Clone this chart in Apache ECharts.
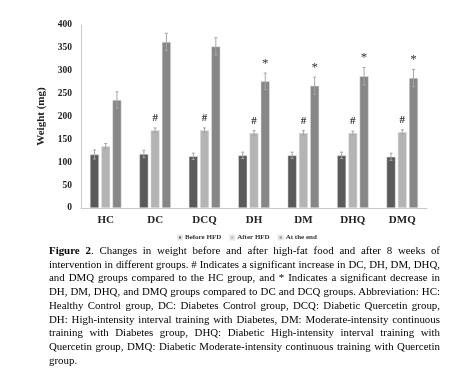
<!DOCTYPE html>
<html>
<head>
<meta charset="utf-8">
<script src="https://cdn.jsdelivr.net/npm/echarts@6/dist/echarts.min.js"></script>
<style>
  html, body { margin: 0; padding: 0; background: #fff; }
  #chart { width: 453px; height: 245px; }
  #caption {
    position: absolute; left: 49px; top: 244px; width: 391px;
    font-family: "Liberation Serif", serif; font-size: 10.9px; line-height: 13.7px;
    text-align: justify; color: #000;
  }
</style>
</head>
<body>
<div id="chart"></div>
<div id="caption"><b>Figure 2</b>. Changes in weight before and after high-fat food and after 8 weeks of intervention in different groups. # Indicates a significant increase in DC, DH, DM, DHQ, and DMQ groups compared to the HC group, and * Indicates a significant decrease in DH, DM, DHQ, and DMQ groups compared to DC and DCQ groups. Abbreviation: HC: Healthy Control group, DC: Diabetes Control group, DCQ: Diabetic Quercetin group, DH: High-intensity interval training with Diabetes, DM: Moderate-intensity continuous training with Diabetes group, DHQ: Diabetic High-intensity interval training with Quercetin group, DMQ: Diabetic Moderate-intensity continuous training with Quercetin group.</div>
<script>
// data
const groups = ["HC", "DC", "DCQ", "DH", "DM", "DHQ", "DMQ"];
const beforeHFD = [117, 118, 113, 115, 115, 115, 112];
const afterHFD = [135, 170, 170, 164, 164, 164, 166];
const atTheEnd = [236, 363, 353, 277, 267, 288, 284];
const beforeErr = [10, 8, 7, 7, 7, 7, 8];
const afterErr = [6, 5, 5, 5, 5, 4, 5];
const endErr = [18, 19, 19, 18, 19, 19, 19];
const afterSig = ["", "#", "#", "#", "#", "#", "#"];
const endSig = ["", "", "", "*", "*", "*", "*"];
const yTicks = [0, 50, 100, 150, 200, 250, 300, 350, 400];

const serif = "Liberation Serif";
const chart = echarts.init(document.getElementById("chart"));

// error bars (+ significance marks) drawn over the bars
function errSeries(name, vals, errs, marks, offset) {
    return {
        type: "custom",
        name: name + " err",
        z: 5,
        silent: true,
        data: vals.map((v, i) => [i, v, errs[i], marks ? marks[i] : ""]),
        renderItem(params, api) {
            const i = api.value(0), v = api.value(1), e = api.value(2);
            const hi = api.coord([i, v + e]);
            const lo = api.coord([i, v - e]);
            const x = hi[0] + offset;
            const st = { stroke: "#a6a6a6", lineWidth: 1 };
            const children = [
                { type: "line", shape: { x1: x, y1: hi[1], x2: x, y2: lo[1] }, style: st },
                { type: "line", shape: { x1: x - 1.5, y1: hi[1], x2: x + 1.5, y2: hi[1] }, style: st },
                { type: "line", shape: { x1: x - 1.5, y1: lo[1], x2: x + 1.5, y2: lo[1] }, style: st },
            ];
            const m = api.value(3);
            if (m) {
                children.push({
                    type: "text",
                    style: {
                        text: m, x: x, y: hi[1] - (m === "*" ? 3 : 4),
                        align: "center", verticalAlign: "bottom",
                        font: (m === "*" ? "13px " : "bold 11px ") + serif, fill: "#333"
                    }
                });
            }
            return { type: "group", children: children };
        }
    };
}

const barStyle = (c) => ({ color: c, borderColor: "#e6e6e6", borderWidth: 0.5 });

chart.setOption({
    animation: false,
    grid: { left: 81, right: 26, top: 25, bottom: 37 },
    legend: {
        data: ["Before HFD", "After HFD", "At the end"],
        top: 229,
        left: 172,
        itemWidth: 4,
        itemHeight: 4,
        itemGap: 8,
        icon: "rect",
        textStyle: { fontFamily: serif, fontWeight: "bold", fontSize: 7, color: "#333", padding: [0, 0, 0, -2] }
    },
    xAxis: {
        type: "category",
        data: groups,
        axisTick: { show: false },
        axisLine: { lineStyle: { color: "#c8c8c8", width: 1 } },
        axisLabel: { fontFamily: serif, fontWeight: "bold", fontSize: 11, color: "#222", margin: 7 }
    },
    yAxis: {
        type: "value",
        min: yTicks[0],
        max: yTicks[yTicks.length - 1],
        interval: 50,
        name: "Weight (mg)",
        nameLocation: "middle",
        nameGap: 27,
        nameTextStyle: { fontFamily: serif, fontWeight: "bold", fontSize: 11, color: "#222" },
        splitLine: { show: false },
        axisTick: { show: false },
        axisLine: { show: true, lineStyle: { color: "#c8c8c8", width: 1 } },
        axisLabel: { fontFamily: serif, fontWeight: "bold", fontSize: 9.5, color: "#222", margin: 9 }
    },
    series: [
        { name: "Before HFD", type: "bar", data: beforeHFD, barWidth: 9, barGap: "25%", itemStyle: barStyle("#5a5a5a") },
        { name: "After HFD", type: "bar", data: afterHFD, barWidth: 9, barGap: "25%", itemStyle: barStyle("#b4b4b4") },
        { name: "At the end", type: "bar", data: atTheEnd, barWidth: 9, barGap: "25%", itemStyle: barStyle("#878787") },
        errSeries("Before HFD", beforeHFD, beforeErr, null, -11.25),
        errSeries("After HFD", afterHFD, afterErr, afterSig, 0),
        errSeries("At the end", atTheEnd, endErr, endSig, 11.25)
    ]
});
</script>
</body>
</html>
